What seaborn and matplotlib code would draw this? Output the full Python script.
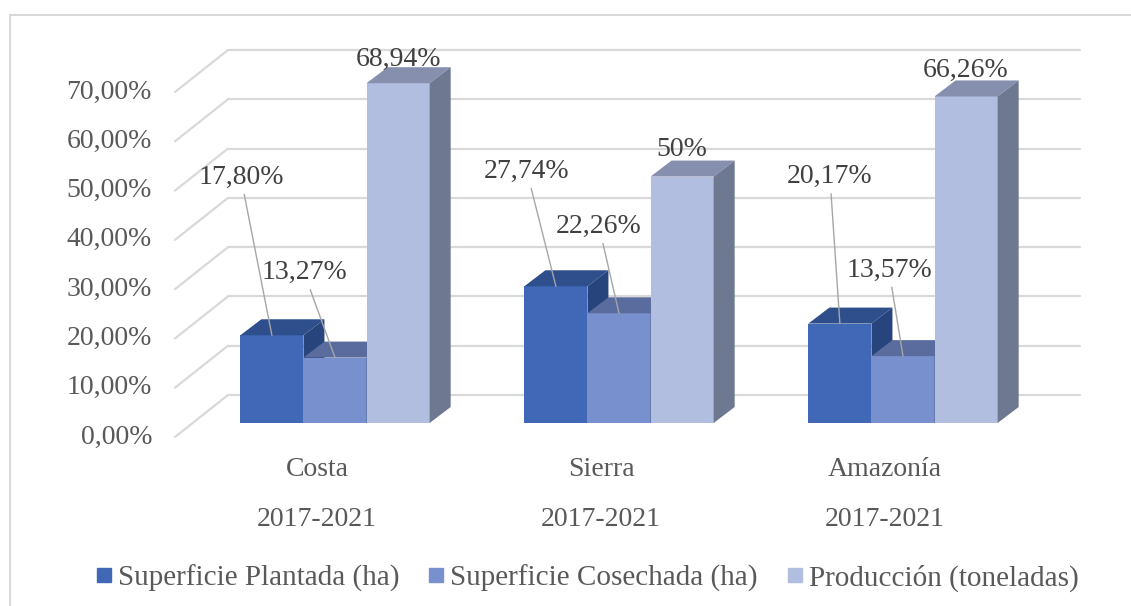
import numpy as np
import pandas as pd
import matplotlib
matplotlib.use("Agg")
import matplotlib.pyplot as plt
import seaborn as sns
from matplotlib.transforms import ScaledTranslation, blended_transform_factory
from matplotlib.patches import Polygon, Rectangle
from matplotlib.lines import Line2D

# Data
categories = ["Costa", "Sierra", "Amazonía"]
period = "2017-2021"
series = ["Superficie Plantada (ha)", "Superficie Cosechada (ha)", "Producción (toneladas)"]
plantada = [17.80, 27.74, 20.17]
cosechada = [13.27, 22.26, 13.57]
produccion = [68.94, 50.00, 66.26]
plantada_lbl = ["17,80%", "27,74%", "20,17%"]
cosechada_lbl = ["13,27%", "22,26%", "13,57%"]
produccion_lbl = ["68,94%", "50%", "66,26%"]
y_ticks = [0, 10, 20, 30, 40, 50, 60, 70]
y_tick_labels = ["0,00%", "10,00%", "20,00%", "30,00%", "40,00%", "50,00%", "60,00%", "70,00%"]

# Colours (front, top, side faces)
front_colors = ["#4068B6", "#7890CD", "#B1BEDF"]
top_colors = ["#2E4E8C", "#5A6B9E", "#868FAE"]
side_colors = ["#27457C", "#4E5E8C", "#6E7891"]
grid_color = "#D9D9D9"
text_color = "#595959"
label_color = "#404040"

# label offsets in pixels (per series, per category)
label_offsets = [
    [(-31, 158), (-29, 115), (-10, 147)],
    [(-31, 85), (-20, 87), (-14, 86)],
    [(0, 24), (0, 27), (0, 26)],
]

df = pd.DataFrame({
    "region": categories * 3,
    "serie": np.repeat(series, 3),
    "valor": plantada + cosechada + produccion,
    "etiqueta": plantada_lbl + cosechada_lbl + produccion_lbl,
})

sns.set_style("white")
plt.rcParams["font.family"] = ["Liberation Serif", "DejaVu Serif"]

W, H = 1131, 606
fig = plt.figure(figsize=(W / 100, H / 100), dpi=100)
ax = fig.add_axes([193 / W, 1 - 423 / H, 852 / W, 345 / H])

sns.barplot(data=df, x="region", y="valor", hue="serie", palette=front_colors,
            width=2 / 3, saturation=1, legend=False, linewidth=0, ax=ax)
ax.set_xlim(-0.5, 2.5)
ax.set_ylim(0, 70)
ax.set_xticks([])
ax.set_yticks([])
ax.set_xlabel("")
ax.set_ylabel("")
for s in ax.spines.values():
    s.set_visible(False)

# pseudo-3D depth offsets (pixels)
bar_depth = (21, 16)
wall = (35, 28)
front = (-18, -14)

inv = ax.transData.inverted()


def shift(x, y, dx, dy):
    px, py = ax.transData.transform((x, y))
    return tuple(inv.transform((px + dx, py + dy)))


# back wall grid + diagonal floor/side lines
x_left, x_right = ax.get_xlim()
for t in y_ticks:
    a = shift(x_left, t, *wall)
    b = shift(x_right, t, *wall)
    c = shift(x_left, t, *front)
    ax.plot([a[0], b[0]], [a[1], b[1]], color=grid_color, lw=1.6, zorder=0, clip_on=False)
    ax.plot([c[0], a[0]], [c[1], a[1]], color=grid_color, lw=1.6, zorder=0, clip_on=False)

# 3D faces of the bars
bars = sorted(ax.patches, key=lambda p: p.get_x())
for k, p in enumerate(bars):
    cat_i, ser_i = k // 3, k % 3
    x0, w, h = p.get_x(), p.get_width(), p.get_height()
    z = 10 + k * 0.1
    p.set_zorder(z)
    top = [(x0, h), (x0 + w, h), shift(x0 + w, h, *bar_depth), shift(x0, h, *bar_depth)]
    side = [(x0 + w, 0), (x0 + w, h), shift(x0 + w, h, *bar_depth), shift(x0 + w, 0, *bar_depth)]
    ax.add_patch(Polygon(top, closed=True, facecolor=top_colors[ser_i], edgecolor="none",
                         zorder=z + 0.05, clip_on=False))
    ax.add_patch(Polygon(side, closed=True, facecolor=side_colors[ser_i], edgecolor="none",
                         zorder=z + 0.05, clip_on=False))

    lbl = df[(df["region"] == categories[cat_i]) & (df["serie"] == series[ser_i])]["etiqueta"].iloc[0]
    dx, dy = label_offsets[ser_i][cat_i]
    arrow = None
    if ser_i < 2:
        arrow = dict(arrowstyle="-", color="#A6A6A6", lw=1.0, shrinkA=1, shrinkB=0)
    ax.annotate(lbl, xy=(x0 + w / 2, h), xytext=(dx, dy), textcoords="offset pixels",
                ha="center", va="center", fontsize=20, color=label_color,
                arrowprops=arrow, zorder=20, annotation_clip=False)

# y tick labels on the front plane
ytrans = blended_transform_factory(ax.transAxes, ax.transData) + \
    ScaledTranslation(-0.41, -0.14, fig.dpi_scale_trans)
for t, s in zip(y_ticks, y_tick_labels):
    ax.text(0, t, s, transform=ytrans, ha="right", va="center", fontsize=20, color=text_color)

# category labels
for i, c in enumerate(categories):
    ax.text(i, 0, c, transform=ax.transData + ScaledTranslation(-0.18, -0.47, fig.dpi_scale_trans),
            ha="center", va="center", fontsize=20, color=text_color)
    ax.text(i, 0, period, transform=ax.transData + ScaledTranslation(-0.18, -0.97, fig.dpi_scale_trans),
            ha="center", va="center", fontsize=20, color=text_color)

# legend
handles = [Line2D([], [], marker="s", linestyle="none", markersize=10,
                  markerfacecolor=c, markeredgecolor=c) for c in front_colors]
leg = fig.legend(handles, series, loc="center", bbox_to_anchor=(0.519, 1 - 578 / H), ncol=3,
                 frameon=False, fontsize=21, handlelength=0.55, handletextpad=0.2,
                 columnspacing=1.0, labelcolor=text_color)

# outer chart border
fig.add_artist(Rectangle((10 / W, -0.05), 1.2, 1 - 15 / H + 0.05, transform=fig.transFigure,
                         fill=False, edgecolor=grid_color, lw=1.5))

fig.savefig("out.png", dpi=100)
